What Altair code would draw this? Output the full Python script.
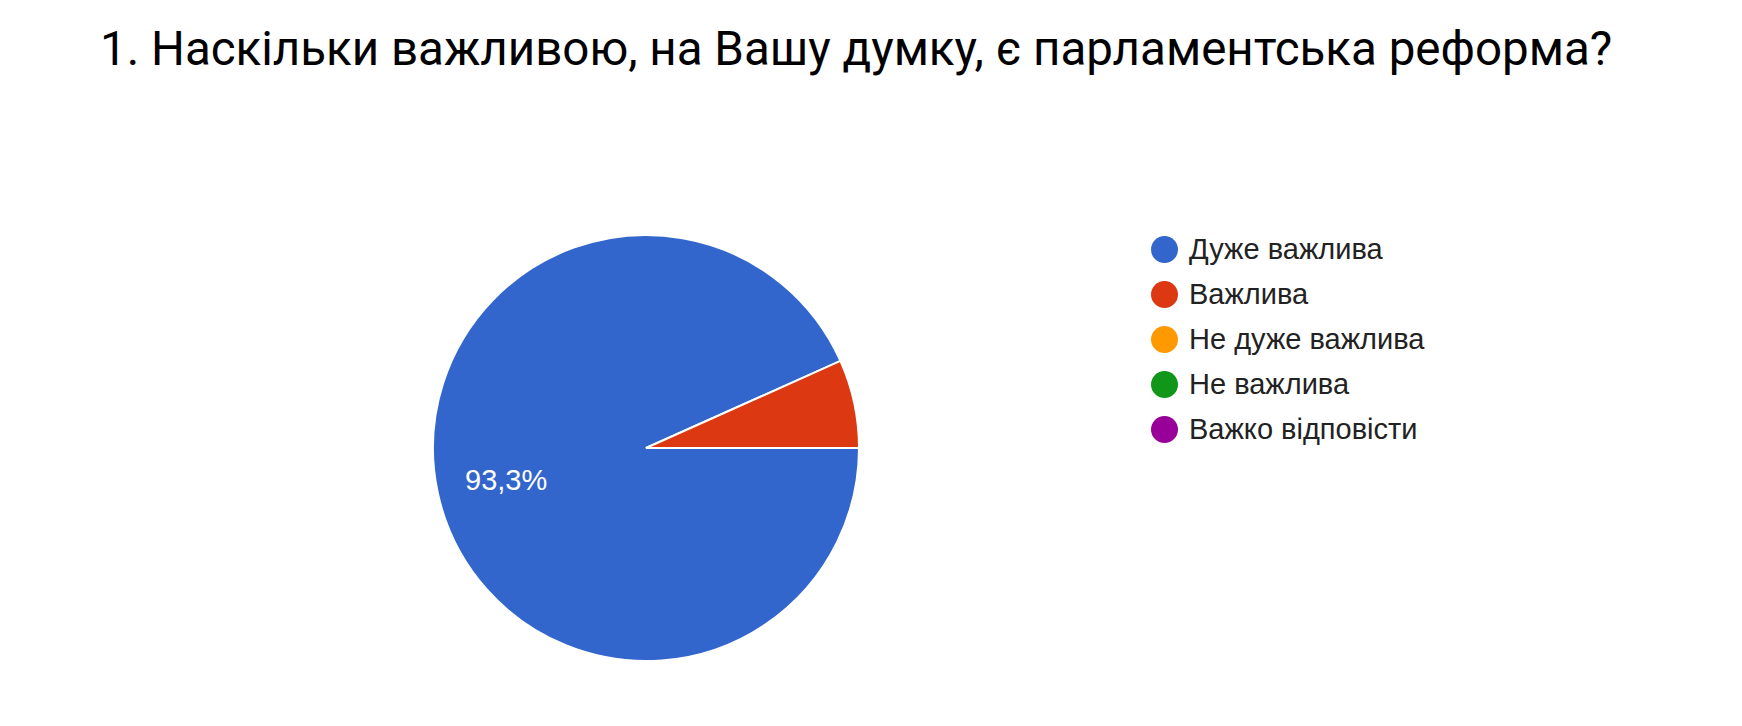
import math
import altair as alt
import pandas as pd

categories = ["Дуже важлива", "Важлива", "Не дуже важлива", "Не важлива", "Важко відповісти"]
values = [93.3, 6.7, 0.0, 0.0, 0.0]
labels = ["93,3%", "", "", "", ""]
colors = ["#3366cc", "#dc3912", "#ff9900", "#109618", "#990099"]
title_text = "1. Наскільки важливою, на Вашу думку, є парламентська реформа?"

df = pd.DataFrame({
    "category": categories,
    "value": values,
    "label": labels,
    "order": list(range(len(categories))),
})

TOP = 90
W, H = 1726, 710 - TOP
CX, CY, R = 638, 440 - TOP, 213

theta = alt.Theta("value:Q", stack=True,
                  scale=alt.Scale(range=[math.pi / 2, math.pi / 2 + 2 * math.pi]))
color = alt.Color(
    "category:N",
    scale=alt.Scale(domain=categories, range=colors),
    sort=categories,
    legend=alt.Legend(
        title=None, orient="none", legendX=1142, legendY=227 - TOP,
        symbolType="circle", symbolSize=729, symbolStrokeWidth=0,
        labelFont="Liberation Sans", labelFontSize=29, labelColor="#222222",
        labelOffset=10, rowPadding=15, padding=0, labelLimit=400,
    ),
)

base = alt.Chart(df).encode(
    theta=theta,
    order=alt.Order("order:Q"),
)

pie = base.mark_arc(radius=R, stroke="white", strokeWidth=2).encode(
    color=color,
    x=alt.value(CX), y=alt.value(CY),
)

text = base.mark_text(radius=143, font="Liberation Sans", fontSize=29,
                      color="white", align="center", baseline="middle", dy=3).encode(
    text="label:N",
    x=alt.value(CX), y=alt.value(CY),
)

chart = (pie + text).properties(
    width=W, height=H,
    autosize=alt.AutoSizeParams(type="none"),
    padding={"top": TOP, "left": 0, "right": 0, "bottom": 0},
    title=alt.TitleParams(
        title_text, font="Roboto", fontSize=47.5, fontWeight="normal",
        color="#000000", anchor="start", frame="group", baseline="alphabetic",
        offset=TOP - 55, dx=92, dy=49,
    ),
).configure_view(stroke=None)

chart.save("out.html", embed_options={"renderer": "svg", "actions": False})
